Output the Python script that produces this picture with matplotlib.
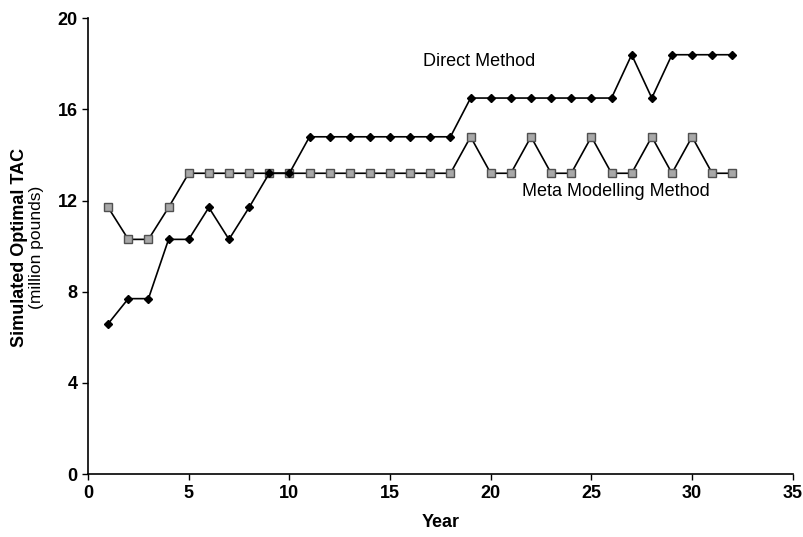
import matplotlib.pyplot as plt

plt.rcParams['font.family'] = ['Liberation Sans Narrow', 'Liberation Sans']

years = list(range(1, 33))

direct_tac = [6.6, 7.7, 7.7, 10.3, 10.3, 11.7, 10.3, 11.7, 13.2, 13.2,
              14.8, 14.8, 14.8, 14.8, 14.8, 14.8, 14.8, 14.8,
              16.5, 16.5, 16.5, 16.5, 16.5, 16.5, 16.5, 16.5,
              18.4, 16.5, 18.4, 18.4, 18.4, 18.4]

meta_tac = [11.7, 10.3, 10.3, 11.7, 13.2, 13.2, 13.2, 13.2, 13.2, 13.2,
            13.2, 13.2, 13.2, 13.2, 13.2, 13.2, 13.2, 13.2,
            14.8, 13.2, 13.2, 14.8, 13.2, 13.2, 14.8, 13.2,
            13.2, 14.8, 13.2, 14.8, 13.2, 13.2]

x_ticks = [0, 5, 10, 15, 20, 25, 30, 35]
y_ticks = [0, 4, 8, 12, 16, 20]

fig = plt.figure(figsize=(8.04, 5.37), dpi=100)
ax = fig.add_axes([0.1095, 0.117, 0.8765, 0.849])

ax.plot(years, meta_tac, color='black', linewidth=1.2, marker='s',
        markersize=6, markerfacecolor='#a8a8a8', markeredgecolor='#505050',
        markeredgewidth=1.0)
ax.plot(years, direct_tac, color='black', linewidth=1.2, marker='D',
        markersize=4.5, markerfacecolor='black', markeredgecolor='black')

ax.text(19.4, 18.1, 'Direct Method', fontsize=13, ha='center', va='center')
ax.text(26.2, 12.4, 'Meta Modelling Method', fontsize=13, ha='center', va='center')

ax.set_xlim(0, 35)
ax.set_ylim(0, 20)
ax.set_xticks(x_ticks)
ax.set_yticks(y_ticks)
for lbl in ax.get_xticklabels() + ax.get_yticklabels():
    lbl.set_fontweight('bold')
    lbl.set_fontsize(13)
ax.tick_params(direction='out', length=4, width=1)

ax.spines['top'].set_visible(False)
ax.spines['right'].set_visible(False)
ax.spines['left'].set_linewidth(1.2)
ax.spines['bottom'].set_linewidth(1.2)

ax.set_xlabel('Year', fontsize=13, fontweight='bold', labelpad=9)

# two-line y label: bold title plus units underneath
fig.text(0.024, 0.54, 'Simulated Optimal TAC', rotation=90, fontsize=13,
         fontweight='bold', ha='center', va='center')
fig.text(0.045, 0.54, '(million pounds)', rotation=90, fontsize=12.5,
         ha='center', va='center')

fig.savefig('out.png', dpi=100)
